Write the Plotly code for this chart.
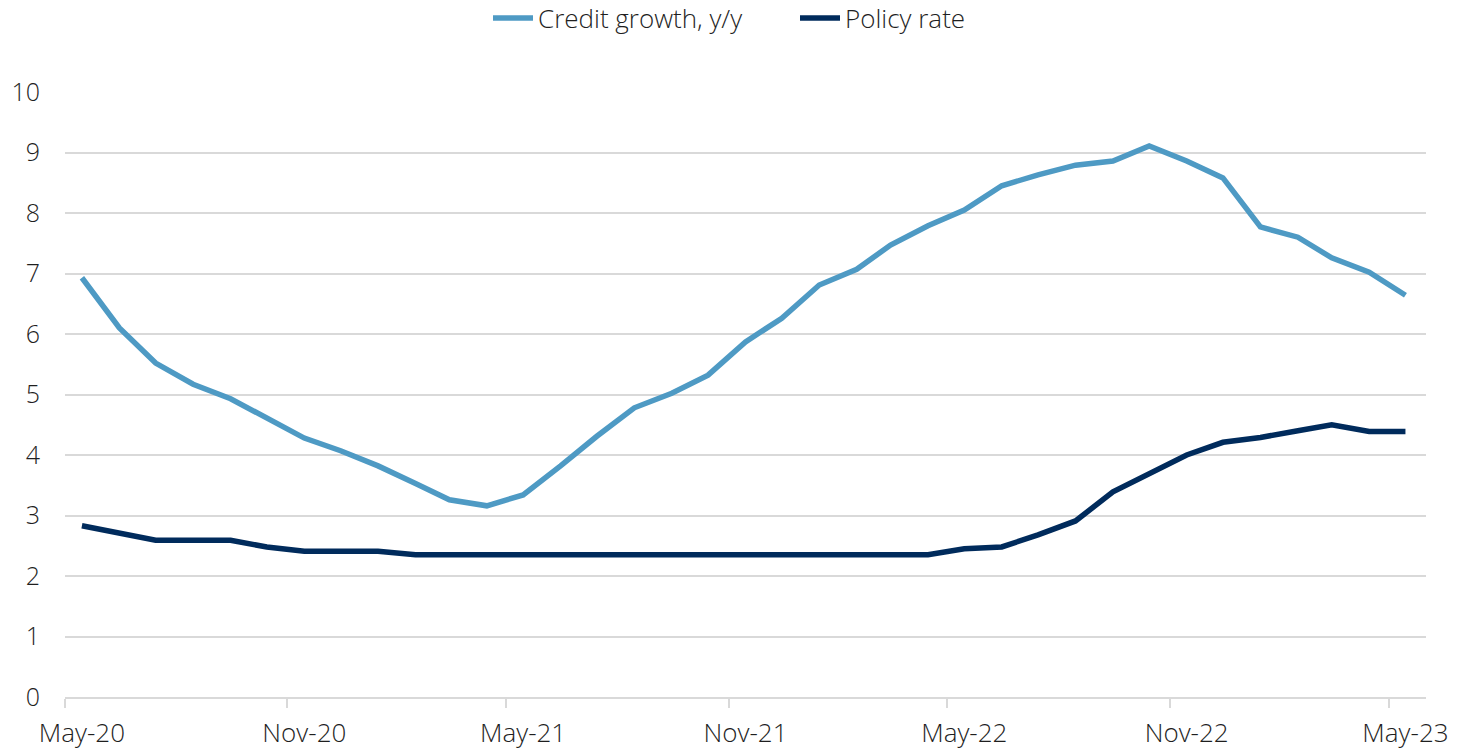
import pandas as pd
import plotly.graph_objects as go

# Monthly observations, May-2020 .. May-2023
months = pd.date_range("2020-05-01", "2023-05-01", freq="MS")
credit_growth = [6.93, 6.10, 5.52, 5.17, 4.93, 4.60, 4.28, 4.07, 3.82, 3.53,
                 3.26, 3.16, 3.34, 3.82, 4.31, 4.78, 5.02, 5.32, 5.87, 6.26,
                 6.81, 7.07, 7.47, 7.79, 8.05, 8.45, 8.63, 8.79, 8.86, 9.11,
                 8.86, 8.58, 7.77, 7.60, 7.26, 7.02, 6.64]
policy_rate = [2.83, 2.70, 2.59, 2.59, 2.59, 2.48, 2.41, 2.41, 2.41, 2.35,
               2.35, 2.35, 2.35, 2.35, 2.35, 2.35, 2.35, 2.35, 2.35, 2.35,
               2.35, 2.35, 2.35, 2.35, 2.45, 2.48, 2.68, 2.91, 3.39, 3.69,
               4.00, 4.21, 4.29, 4.40, 4.50, 4.39, 4.39]
tick_labels = ["May-20", "Nov-20", "May-21", "Nov-21", "May-22", "Nov-22", "May-23"]
y_ticks = list(range(0, 11))

# each month is drawn in the middle of its period
x_mid = months + pd.Timedelta(days=14)
label_pos = [x_mid[i] for i in range(0, len(months), 6)]
boundary_ticks = [months[i] for i in range(0, len(months), 6)]

FONT = "Open Sans"
GRID = "#d9d9d9"
TEXT = "#1f1f1f"

fig = go.Figure()
fig.add_trace(go.Scatter(x=x_mid, y=credit_growth, mode="lines",
                         name="Credit growth, y/y",
                         line=dict(color="#4e9ac4", width=5.5)))
fig.add_trace(go.Scatter(x=x_mid, y=policy_rate, mode="lines",
                         name="Policy rate",
                         line=dict(color="#002b5c", width=5.5)))

fig.update_layout(
    width=1461, height=750,
    margin=dict(l=65, r=35, t=92, b=53, autoexpand=False),
    paper_bgcolor="white", plot_bgcolor="white",
    font=dict(family=FONT, size=24, color=TEXT, weight=300),
    legend=dict(orientation="h", x=488 / 1461, xanchor="left", xref="container",
                y=1 - 18 / 750, yanchor="middle", yref="container",
                font=dict(family=FONT, size=26, color=TEXT, weight=300),
                entrywidth=252, entrywidthmode="pixels",
                itemwidth=40, tracegroupgap=0),
    showlegend=True,
)

fig.update_xaxes(
    type="date",
    range=["2020-05-01", "2023-06-01"],
    tickmode="array", tickvals=label_pos, ticktext=tick_labels,
    ticks="", showgrid=False,
    showline=True, linecolor=GRID, linewidth=2,
    ticklabelstandoff=12, automargin=False,
    tickfont=dict(family=FONT, size=26, color=TEXT, weight=300),
    minor=dict(tickmode="array", tickvals=boundary_ticks, ticks="outside",
               ticklen=9, tickcolor=GRID, tickwidth=2, showgrid=False),
    zeroline=False,
)
fig.update_yaxes(
    range=[0, 10], tickmode="array", tickvals=y_ticks,
    showgrid=True, gridcolor=GRID, gridwidth=2,
    zeroline=False, showline=False, ticks="",
    ticklabelstandoff=24, automargin=False,
    tickfont=dict(family=FONT, size=25, color=TEXT, weight=300),
)

fig.write_html("out.html")
